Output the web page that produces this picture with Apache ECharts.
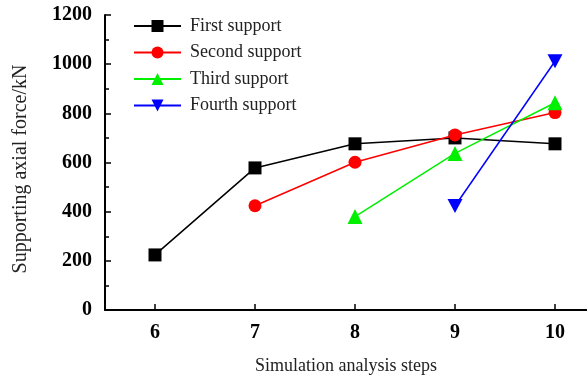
<!DOCTYPE html>
<html>
<head>
<meta charset="utf-8">
<script src="https://cdn.jsdelivr.net/npm/echarts@6/dist/echarts.min.js"></script>
<style>
html,body{margin:0;padding:0;background:#fff;}
#c{width:587px;height:375px;}
</style>
</head>
<body>
<div id="c"></div>
<script>
const categories = [6, 7, 8, 9, 10];
const seriesNames = ['First support', 'Second support', 'Third support', 'Fourth support'];
const firstSupport = [224, 578, 676, 700, 676];
const secondSupport = [null, 424, 601, 712, 803];
const thirdSupport = [null, null, 380, 637, 843];
const fourthSupport = [null, null, null, 423, 1012];
const yTicks = [0, 200, 400, 600, 800, 1000, 1200];

const FONT = "'Liberation Serif', 'Times New Roman', serif";
const colors = ['#000000', '#ff0000', '#00f000', '#0000ff'];
const symbols = ['rect', 'circle', 'triangle', 'path://M0,0 L10,0 L5,9 Z'];
const sizes = [13, 13, 15, [15, 14]];
const datasets = [firstSupport, secondSupport, thirdSupport, fourthSupport];

const chart = echarts.init(document.getElementById('c'), null, {renderer: 'canvas'});
chart.setOption({
  backgroundColor: '#ffffff',
  animation: false,
  grid: {left: 105, top: 15, right: 0, height: 295, outerBoundsMode: 'none', containLabel: false},
  legend: {
    orient: 'vertical', left: 133, top: 17, padding: 0,
    itemWidth: 47, itemHeight: 15, itemGap: 8.5,
    textStyle: {fontFamily: FONT, fontSize: 18, color: '#222', padding: [0, 0, 0, 4]},
    data: seriesNames
  },
  xAxis: {
    type: 'value', min: 5.5, max: 10.32,
    name: 'Simulation analysis steps', nameLocation: 'middle', nameGap: 47,
    nameTextStyle: {fontFamily: FONT, fontSize: 18, color: '#222'},
    axisLine: {lineStyle: {color: '#000', width: 2}},
    axisTick: {inside: true, length: 6, customValues: categories, lineStyle: {color: '#000', width: 1.5}},
    axisLabel: {fontFamily: FONT, fontSize: 20, fontWeight: 'bold', color: '#000', margin: 13, customValues: categories},
    splitLine: {show: false}
  },
  yAxis: {
    type: 'value', min: yTicks[0], max: yTicks[yTicks.length - 1], interval: 200,
    name: 'Supporting axial force/kN', nameLocation: 'middle', nameGap: 74,
    nameTextStyle: {fontFamily: FONT, fontSize: 20, color: '#222', padding: [0, 13, 0, 0]},
    axisLine: {show: true, lineStyle: {color: '#000', width: 2}},
    axisTick: {show: true, inside: true, length: 6, lineStyle: {color: '#000', width: 1.5}},
    minorTick: {show: true, splitNumber: 2, length: 4, lineStyle: {color: '#000', width: 1.5}},
    axisLabel: {fontFamily: FONT, fontSize: 20, fontWeight: 'bold', color: '#000', margin: 13, formatter: v => String(v)},
    splitLine: {show: false}
  },
  series: datasets.map((d, i) => ({
    name: seriesNames[i], type: 'line',
    data: d.map((v, j) => [categories[j], v]),
    symbol: symbols[i], symbolSize: sizes[i],
    connectNulls: false,
    lineStyle: {color: colors[i], width: 1.5},
    itemStyle: {color: colors[i]},
    z: 2 + i
  }))
});
</script>
</body>
</html>
